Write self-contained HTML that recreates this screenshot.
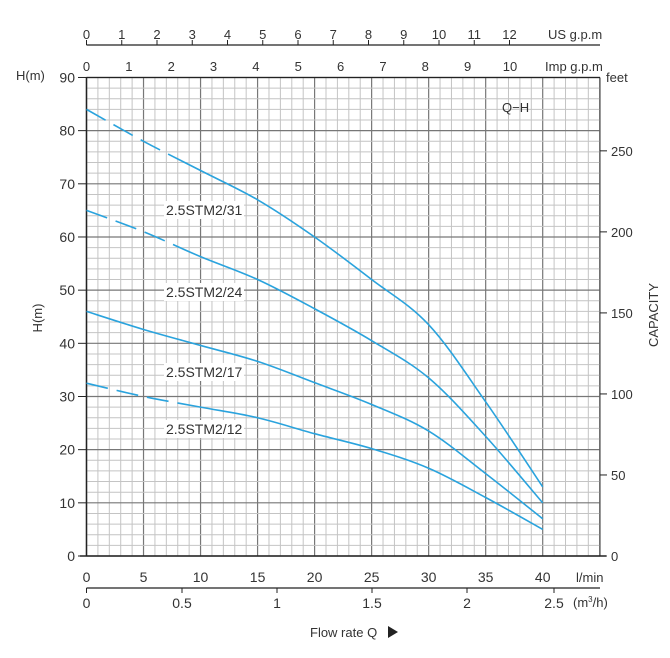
<!DOCTYPE html>
<html><head><meta charset="utf-8"><style>
html,body{margin:0;padding:0;background:#fff}
svg text{font-family:"Liberation Sans",Arial,sans-serif;fill:#333}
</style></head><body>
<svg id="s" width="670" height="653" xmlns="http://www.w3.org/2000/svg"></svg>
<script>
const s=document.getElementById('s');let h='';
const X=q=>86.5+q*11.405, Y=m=>556-m*5.317;
// grid
for(let q=0;q<=45;q++){const x=X(q);if(x>601)break;h+=`<line x1="${x}" y1="77.5" x2="${x}" y2="556" stroke="${q%5?'#c4c4c4':'#777'}" stroke-width="${q%5?1:1.2}"/>`;}
for(let m=0;m<=90;m+=2){const y=Y(m);h+=`<line x1="86.5" y1="${y}" x2="600" y2="${y}" stroke="${m%10?'#c4c4c4':'#777'}" stroke-width="${m%10?1:1.2}"/>`;}
h+=`<line x1="600" y1="77.5" x2="600" y2="556" stroke="#555" stroke-width="1.2"/>`;
h+=`<line x1="86.5" y1="77.5" x2="86.5" y2="556" stroke="#222" stroke-width="1.5"/><line x1="80" y1="556" x2="606" y2="556" stroke="#222" stroke-width="1.5"/>`;
h+=`<line x1="86.5" y1="77.5" x2="600" y2="77.5" stroke="#222" stroke-width="1.2"/>`;
// left ticks
for(let m=0;m<=90;m+=10){const y=Y(m);h+=`<line x1="78" y1="${y}" x2="86.5" y2="${y}" stroke="#222"/><text x="75" y="${y+5}" font-size="14" text-anchor="end">${m}</text>`;}
// right feet
for(let f=0;f<=250;f+=50){const y=556-f*0.3048*5.317;h+=`<line x1="600" y1="${y}" x2="607" y2="${y}" stroke="#222"/><text x="611" y="${y+5}" font-size="13">${f}</text>`;}
h+=`<text x="606" y="82" font-size="13">feet</text>`;
// bottom l/min
for(let q=0;q<=40;q+=5){h+=`<text x="${X(q)}" y="582" font-size="14" text-anchor="middle">${q}</text>`;}
h+=`<text x="576" y="582" font-size="13">l/min</text>`;
h+=`<line x1="86.5" y1="588" x2="600" y2="588" stroke="#222" stroke-width="1.2"/>`;
[[0,'0',86.5],[.5,'0.5',182],[1,'1',277],[1.5,'1.5',372],[2,'2',467],[2.5,'2.5',554]].forEach(a=>{h+=`<line x1="${a[2]}" y1="588" x2="${a[2]}" y2="593" stroke="#222"/><text x="${a[2]}" y="608" font-size="14" text-anchor="middle">${a[1]}</text>`;});
h+=`<text x="573" y="607" font-size="13">(m<tspan font-size="8" dy="-5">3</tspan><tspan dy="5">/h)</tspan></text>`;
h+=`<text x="310" y="637" font-size="13">Flow rate Q</text><polygon points="388,626 388,638 398,632" fill="#222"/>`;
// top US gpm
h+=`<line x1="86.5" y1="45" x2="600" y2="45" stroke="#222" stroke-width="1.2"/>`;
for(let g=0;g<=12;g++){const x=86.5+g*35.25;h+=`<line x1="${x}" y1="40" x2="${x}" y2="45" stroke="#222"/><text x="${x}" y="39" font-size="13" text-anchor="middle">${g}</text>`;}
h+=`<text x="548" y="39" font-size="13">US g.p.m</text>`;
for(let g=0;g<=10;g++){const x=86.5+g*42.35;h+=`<text x="${x}" y="71" font-size="13" text-anchor="middle">${g}</text>`;}
h+=`<text x="545" y="71" font-size="13">Imp g.p.m</text>`;
h+=`<text x="16" y="80" font-size="13">H(m)</text>`;
h+=`<text transform="translate(42,318) rotate(-90)" font-size="13" text-anchor="middle">H(m)</text>`;
h+=`<text transform="translate(658,315) rotate(-90)" font-size="13" text-anchor="middle">CAPACITY</text>`;
h+=`<text x="502" y="112" font-size="13">Q−H</text>`;
// curves
const C=[[[0,84],[5,78],[10,72.5],[15,67],[20,60],[25,52],[30,43.5],[35,29],[40,13]],
[[0,65],[5,61],[10,56.3],[15,52],[20,46.5],[25,40.5],[30,33.5],[35,22.5],[40,10]],
[[0,46],[5,42.6],[10,39.6],[15,36.6],[20,32.6],[25,28.5],[30,23.5],[35,15.5],[40,7]],
[[0,32.5],[5,30],[10,28],[15,26],[20,23],[25,20.2],[30,16.5],[35,11],[40,5]]];
function path(p){let d=`M${X(p[0][0])},${Y(p[0][1])}`;for(let i=1;i<p.length;i++){const a=p[i-1],b=p[i],pa=p[i-2]||a,nb=p[i+1]||b;
const c1=[a[0]+(b[0]-pa[0])/6,a[1]+(b[1]-pa[1])/6],c2=[b[0]-(nb[0]-a[0])/6,b[1]-(nb[1]-a[1])/6];
d+=` C${X(c1[0])},${Y(c1[1])} ${X(c2[0])},${Y(c2[1])} ${X(b[0])},${Y(b[1])}`;}return d;}
C.forEach((p,i)=>{const d=path(p);
h+=`<path d="${d}" fill="none" stroke="#2aa3dd" stroke-width="1.6" stroke-dasharray="${i==2?'100,0,900':'22,9,22,9,22,9,2000'}"/>`;});
[['2.5STM2/31',215],['2.5STM2/24',297],['2.5STM2/17',377],['2.5STM2/12',434]].forEach(a=>{h+=`<rect x="164" y="${a[1]-14}" width="80" height="18" fill="#fff"/><text x="166" y="${a[1]}" font-size="14">${a[0]}</text>`;});
s.innerHTML=h;
</script>
</body></html>
